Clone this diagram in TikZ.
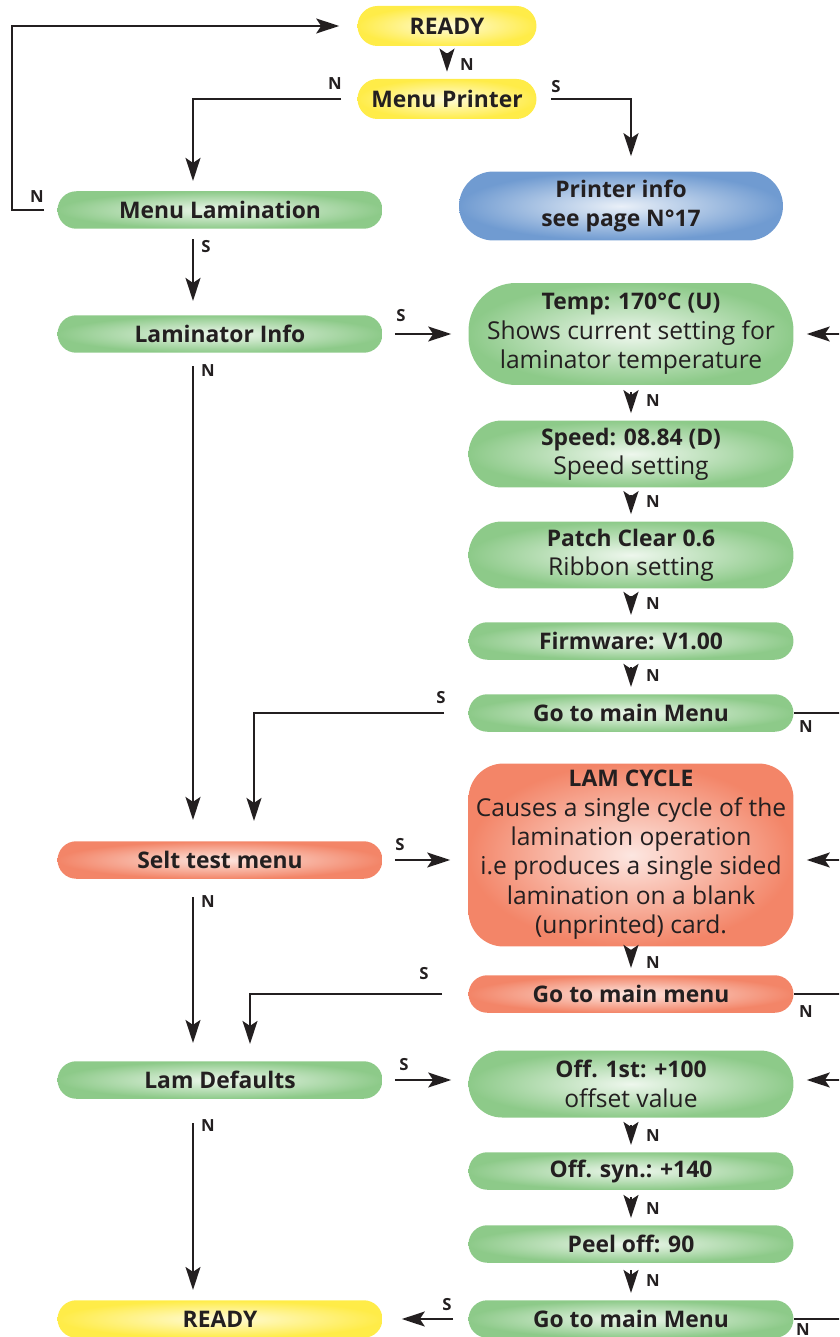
\documentclass[tikz,border=0pt]{standalone}
\usepackage{fontspec}
\setmainfont{Open Sans}
\usepackage{xcolor}
\usepackage{tikz}
\usetikzlibrary{arrows.meta}

\definecolor{pillyellow}{RGB}{255,236,72}
\definecolor{pillgreen}{RGB}{141,202,137}
\definecolor{pillblue}{RGB}{112,155,209}
\definecolor{pillred}{RGB}{243,133,104}
\definecolor{ink}{RGB}{35,31,32}

\newcommand{\hd}[1]{{\fontsize{13}{16.7}\selectfont\bfseries #1}}

\tikzset{
	pill/.style={rectangle, minimum width=6.5cm, align=center, text=ink, inner sep=0pt,
		font=\fontsize{14}{16.7}\selectfont},
	yellowpill/.style={pill, inner color=pillyellow!20!white, outer color=pillyellow},
	greenpill/.style={pill, inner color=pillgreen!15!white, outer color=pillgreen},
	bluepill/.style={pill, inner color=pillblue!15!white, outer color=pillblue},
	redpill/.style={pill, inner color=pillred!20!white, outer color=pillred},
	oneline/.style={minimum height=0.75cm, rounded corners=0.375cm},
	twoline/.style={minimum height=1.34cm, rounded corners=0.67cm},
	wire/.style={line width=1.1pt, draw=ink, -{Stealth[length=0.46cm, width=0.3cm, inset=0.1cm]}},
	flag/.style={font=\fontsize{9.5}{10}\selectfont\bfseries, text=ink, inner sep=0pt},
}

\begin{document}
\begin{tikzpicture}[x=0.02cm, y=-0.02cm]
		\useasboundingbox (0,0) rectangle (839,1337);
		\clip (0,0) rectangle (839,1337);
		% Boxes:
		\node[yellowpill, minimum width=3.58cm, minimum height=0.8cm, rounded corners=0.4cm] (readyT) at (447,26) {\hd{READY}};
		\node[yellowpill, minimum width=3.58cm, minimum height=0.8cm, rounded corners=0.4cm] (mprint) at (447,99) {\hd{Menu Printer}};
		\node[greenpill, oneline] (mlam) at (220,210) {\hd{Menu Lamination}};
		\node[bluepill, minimum width=6.48cm, minimum height=1.38cm, rounded corners=0.69cm] (pinfo) at (621,206) {\hd{Printer info}\\\hd{see page N°17}};
		\node[greenpill, oneline] (laminfo) at (220,334) {\hd{Laminator Info}};
		\node[greenpill, minimum height=2.04cm, rounded corners=0.95cm] (temp) at (631,334) {\hd{Temp: 170°C (U)}\\Shows current setting for\\laminator temperature};
		\node[greenpill, twoline] (speed) at (631,454) {\hd{Speed: 08.84 (D)}\\Speed setting};
		\node[greenpill, twoline] (patch) at (631,555) {\hd{Patch Clear 0.6}\\Ribbon setting};
		\node[greenpill, oneline] (firm) at (631,641) {\hd{Firmware: V1.00}};
		\node[greenpill, oneline] (gomainA) at (631,713) {\hd{Go to main Menu}};
		\node[redpill, minimum height=3.66cm, rounded corners=0.7cm] (lam) at (631,855) {\hd{LAM CYCLE}\\Causes a single cycle of the\\lamination operation\\i.e produces a single sided\\lamination on a blank\\(unprinted) card.};
		\node[redpill, oneline] (selt) at (220,860) {\hd{Selt test menu}};
		\node[redpill, oneline] (gomainB) at (631,994) {\hd{Go to main menu}};
		\node[greenpill, oneline] (lamdef) at (220,1080) {\hd{Lam Defaults}};
		\node[greenpill, twoline] (off1) at (631,1084) {\hd{Off. 1st: +100}\\offset value};
		\node[greenpill, oneline] (offsyn) at (631,1171) {\hd{Off. syn.: +140}};
		\node[greenpill, oneline] (peel) at (631,1244) {\hd{Peel off: 90}};
		\node[greenpill, oneline] (gomainC) at (631,1319) {\hd{Go to main Menu}};
		\node[yellowpill, oneline] (readyB) at (220,1319) {\hd{READY}};
		% Columns of the wires:
		\coordinate (colL) at (193,0);
		\coordinate (colM) at (254,0);
		\coordinate (colN) at (250,0);
		\coordinate (colR) at (631,0);
		\coordinate (loopL) at (12,0);
		\coordinate (loopR) at (880,0);
		% Wires:
		\draw[wire, shorten <=0.14cm, shorten >=0.14cm] (readyT.south) -- (readyT.south |- mprint.north);
		\draw[wire, shorten <=0.32cm, shorten >=0.2cm] (mprint.west) -| (colL |- mlam.north);
		\draw[wire, shorten <=0.28cm, shorten >=0.3cm] (mprint.east) -| (colR |- pinfo.north);
		\draw[wire, shorten <=0.26cm, shorten >=0.36cm] (mlam.west) -- (loopL |- mlam.west) |- (readyT.west);
		\draw[wire, shorten <=0.2cm, shorten >=0.28cm] (colL |- mlam.south) -- (colL |- laminfo.north);
		\draw[wire, shorten <=0.24cm, shorten >=0.34cm] (laminfo.east) -- (laminfo.east -| temp.west);
		\draw[wire, shorten <=0.26cm, shorten >=0.42cm] (colL |- laminfo.south) -- (colL |- selt.north);
		\draw[wire, shorten <=0.14cm, shorten >=0.14cm] (temp) -- (speed);
		\draw[wire, shorten <=0.14cm, shorten >=0.14cm] (speed) -- (patch);
		\draw[wire, shorten <=0.14cm, shorten >=0.14cm] (patch) -- (firm);
		\draw[wire, shorten <=0.14cm, shorten >=0.14cm] (firm) -- (gomainA);
		\draw[wire, shorten <=0.48cm, shorten >=0.4cm] (gomainA.west) -| (colM |- selt.north);
		\draw[wire, shorten >=0.26cm] (gomainA.east) -- (loopR |- gomainA.east) |- (temp.east);
		\draw[wire, shorten <=0.24cm, shorten >=0.36cm] (selt.east) -- (selt.east -| lam.west);
		\draw[wire, shorten <=0.36cm, shorten >=0.36cm] (colL |- selt.south) -- (colL |- lamdef.north);
		\draw[wire, shorten <=0.14cm, shorten >=0.14cm] (lam) -- (gomainB);
		\draw[wire, shorten <=0.52cm, shorten >=0.34cm] (gomainB.west) -| (colN |- lamdef.north);
		\draw[wire, shorten >=0.26cm] (gomainB.east) -- (loopR |- gomainB.east) |- (selt.east -| lam.east);
		\draw[wire, shorten <=0.24cm, shorten >=0.34cm] (lamdef.east) -- (lamdef.east -| off1.west);
		\draw[wire, shorten <=0.48cm, shorten >=0.2cm] (colL |- lamdef.south) -- (colL |- readyB.north);
		\draw[wire, shorten <=0.14cm, shorten >=0.14cm] (off1) -- (offsyn);
		\draw[wire, shorten <=0.14cm, shorten >=0.14cm] (offsyn) -- (peel);
		\draw[wire, shorten <=0.14cm, shorten >=0.14cm] (peel) -- (gomainC);
		\draw[wire, shorten <=0.3cm, shorten >=0.38cm] (gomainC.west) -- (readyB.east);
		\draw[wire, shorten >=0.26cm] (gomainC.east) -- (loopR |- gomainC.east) |- (lamdef.east -| off1.east);
		% Labels:
		\node[flag] (nReady) at (467,65) {N};
		\node[flag] (nPrinter) at (335,84) {N};
		\node[flag] (sPrinter) at (556,87) {S};
		\node[flag] (nMenuLam) at (37,197) {N};
		\node[flag] (sMenuLam) at (206,247) {S};
		\node[flag] (sLamInfo) at (401,316) {S};
		\node[flag] (nLamInfo) at (208,371) {N};
		\node[flag] (nTemp) at (653,401) {N};
		\node[flag] (nSpeed) at (653,502) {N};
		\node[flag] (nPatch) at (653,604) {N};
		\node[flag] (nFirm) at (653,676) {N};
		\node[flag] (sMainA) at (441,698) {S};
		\node[flag] (nMainA) at (806,727) {N};
		\node[flag] (sSelt) at (400,845) {S};
		\node[flag] (nSelt) at (208,902) {N};
		\node[flag] (nLam) at (653,963) {N};
		\node[flag] (sMainB) at (424,974) {S};
		\node[flag] (nMainB) at (806,1012) {N};
		\node[flag] (sLamDef) at (404,1065) {S};
		\node[flag] (nLamDef) at (208,1126) {N};
		\node[flag] (nOff) at (653,1136) {N};
		\node[flag] (nSyn) at (653,1209) {N};
		\node[flag] (nPeel) at (653,1281) {N};
		\node[flag] (sMainC) at (447,1305) {S};
		\node[flag] (nMainC) at (803,1330) {N};
	\end{tikzpicture}
\end{document}
